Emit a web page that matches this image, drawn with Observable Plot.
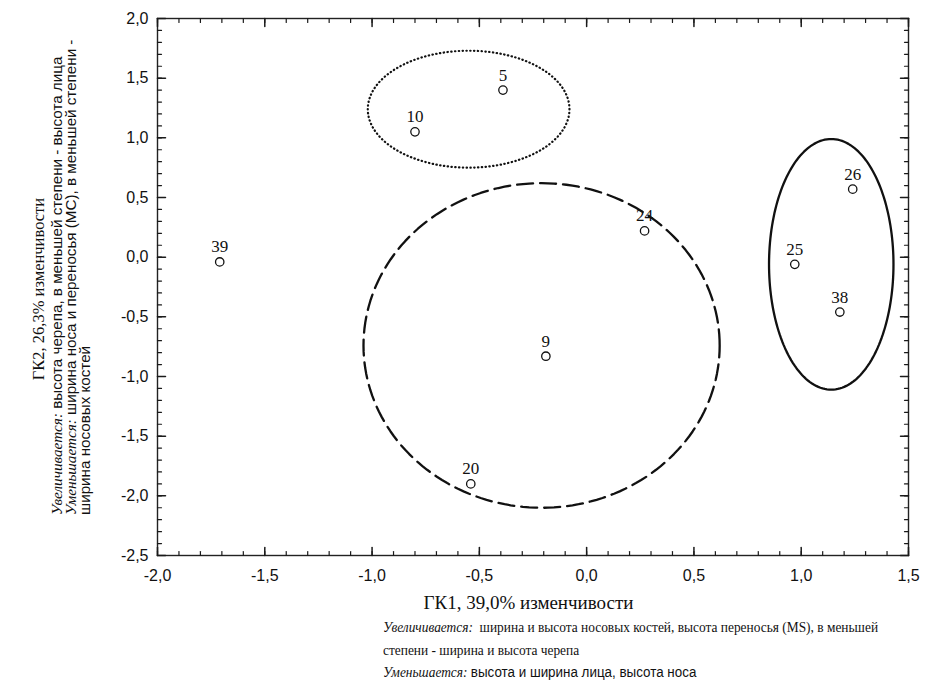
<!DOCTYPE html>
<html><head><meta charset="utf-8">
<script src="https://cdn.jsdelivr.net/npm/d3@7"></script>
<script src="https://cdn.jsdelivr.net/npm/@observablehq/plot@0.6"></script>
<style>
body{margin:0;background:#fff;width:930px;height:698px;overflow:hidden;font-family:"Liberation Serif",serif;color:#111}
#wrap{position:relative;width:930px;height:698px}
.xtitle{position:absolute;left:153px;width:751px;top:591px;text-align:center;font-size:19px;line-height:23px}
.cap{position:absolute;left:383px;top:616px;font-size:15.5px;line-height:22.5px;white-space:nowrap;transform:scaleX(0.864);transform-origin:0 0}
.sans{font-family:"Liberation Sans",sans-serif}
i{font-style:italic}
</style></head><body>
<div id="wrap">
<div id="chart"></div>
<div class="xtitle">ГК1, 39,0% изменчивости</div>
<div class="cap"><i>Увеличивается:</i>&nbsp; ширина и высота носовых костей, высота переносья (MS), в меньшей<br>степени - ширина и высота черепа<br><i>Уменьшается:</i> <span class="sans">высота и ширина лица, высота носа</span></div>
</div>
<script>
// point labels and coordinates (ГК1, ГК2)
const ids = ["39","10","5","24","26","25","38","9","20"];
const gk1 = [-1.71,-0.80,-0.39,0.27,1.24,0.97,1.18,-0.19,-0.54];
const gk2 = [-0.04,1.05,1.40,0.22,0.57,-0.06,-0.46,-0.83,-1.90];
// group ellipses: centre and radii in data units
const groupNames = ["dotted","dashed","solid"];
const groupCx = [-0.55,-0.21,1.14];
const groupCy = [1.24,-0.74,-0.06];
const groupRx = [0.47,0.83,0.29];
const groupRy = [0.49,1.36,1.05];
// axis ticks
const xTicks = [-2.0,-1.5,-1.0,-0.5,0.0,0.5,1.0,1.5];
const yTicks = [-2.5,-2.0,-1.5,-1.0,-0.5,0.0,0.5,1.0,1.5,2.0];
const xMinor = d3.range(-20,16).map(i=>i/10);
const yMinor = d3.range(-25,21).map(i=>i/10);

const points = ids.map((id,i)=>({id, x:gk1[i], y:gk2[i]}));
function outline(g){
  const n=180, rows=[];
  for(let k=0;k<n;k++){const t=2*Math.PI*k/n; rows.push({x:groupCx[g]+groupRx[g]*Math.cos(t), y:groupCy[g]+groupRy[g]*Math.sin(t)});}
  return rows;
}
const fmt = d=>d.toFixed(1).replace(".",",");
const sans = "'Liberation Sans', Arial, sans-serif";
const serif = "'Liberation Serif', 'Times New Roman', serif";

const H = 592;
// short inward tick marks on all four frame edges, drawn as Plot vectors
const tickShape = {draw(context, l){ context.moveTo(0,0); context.lineTo(0,-l); }};
function inwardTicks(xs, ys, len, w){
  const o = {length:len, anchor:"start", shape:tickShape, stroke:"#1a1a1a", strokeWidth:w};
  return [
    Plot.vector(xs,{...o, x:d=>d, frameAnchor:"bottom", rotate:0}),
    Plot.vector(xs,{...o, x:d=>d, frameAnchor:"top", rotate:180}),
    Plot.vector(ys,{...o, y:d=>d, frameAnchor:"left", rotate:90}),
    Plot.vector(ys,{...o, y:d=>d, frameAnchor:"right", rotate:-90})
  ];
}
const plot = Plot.plot({
  width:930, height:H,
  marginLeft:157, marginRight:22, marginTop:18, marginBottom:H-555,
  style:{background:"white", color:"#111", overflow:"visible"},
  x:{domain:[-2,1.5], label:null},
  y:{domain:[-2.5,2], label:null},
  marks:[
    Plot.frame({stroke:"#222", strokeWidth:1.4}),
    ...inwardTicks(xMinor, yMinor, 4, 1.2),
    ...inwardTicks(xTicks, yTicks, 8, 1.5),
    Plot.axisX(xTicks,{anchor:"bottom", tickSize:0, tickPadding:14, tickFormat:fmt, fontSize:16, fontFamily:sans, label:null}),
    Plot.axisY(yTicks,{anchor:"left", tickSize:0, tickPadding:9, tickFormat:fmt, fontSize:16, fontFamily:sans, label:null}),
    // ellipses
    Plot.line(outline(0),{x:"x", y:"y", curve:"linear-closed", stroke:"#111", strokeWidth:2.2, strokeLinecap:"round", strokeDasharray:"0.4,3.4"}),
    Plot.line(outline(1),{x:"x", y:"y", curve:"linear-closed", stroke:"#111", strokeWidth:2.3, strokeDasharray:"16,7"}),
    Plot.line(outline(2),{x:"x", y:"y", curve:"linear-closed", stroke:"#111", strokeWidth:2.3}),
    // points
    Plot.dot(points,{x:"x", y:"y", r:4.2, stroke:"#111", strokeWidth:1.3, fill:"white"}),
    Plot.text(points,{x:"x", y:"y", text:"id", dy:-15, fontSize:17, fontFamily:serif, fill:"#111"})
  ]
});
document.getElementById("chart").appendChild(plot);

const svg = d3.select(plot);
// y-axis title lines (rotated)
const g = svg.append("g").attr("fill","#111");
g.append("text").attr("transform","translate(44,289) rotate(-90)").attr("text-anchor","middle")
  .attr("font-family",serif).attr("font-size",16.5).text("ГК2, 26,3% изменчивости");
const lines = [
  [["Увеличивается:",true,serif],[" высота черепа, в меньшей степени - высота лица",false,sans]],
  [["Уменьшается:",true,serif],[" ширина носа и переносья (МС), в меньшей степени -",false,sans]],
  [["ширина носовых костей",false,sans]]
];
const bx = [62,76,90];
lines.forEach((parts,i)=>{
  const t = g.append("text").attr("transform",`translate(${bx[i]},515) rotate(-90)`).attr("text-anchor","start").attr("font-size",15.2);
  parts.forEach(([s,it,ff])=>t.append("tspan").attr("font-family",ff).attr("font-style",it?"italic":"normal").text(s));
});
</script>
</body></html>
